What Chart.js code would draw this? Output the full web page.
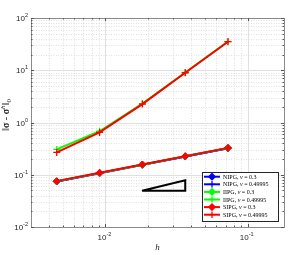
<!DOCTYPE html>
<html><head><meta charset="utf-8">
<script src="https://cdn.jsdelivr.net/npm/chart.js@4/dist/chart.umd.min.js"></script>
<style>html,body{margin:0;padding:0;background:#fff}canvas{display:block}</style>
</head><body>
<canvas id="c" width="293" height="255"></canvas>
<script>
const hValues = [0.00455, 0.0091, 0.0182, 0.0364, 0.0727];
const nipg03 = [0.0742, 0.1070, 0.1550, 0.2240, 0.3220];
const nipg049995 = [0.0745, 0.1075, 0.1555, 0.2245, 0.3225];
const iipg03 = [0.0750, 0.1080, 0.1560, 0.2260, 0.3250];
const iipg049995 = [0.305, 0.680, 2.30, 9.05, 35.4];
const sipg03 = [0.0755, 0.1090, 0.1570, 0.2270, 0.3270];
const sipg049995 = [0.267, 0.645, 2.25, 8.96, 35.2];
const triX = [0.0181, 0.0364, 0.0364, 0.0181];
const triY = [0.0492, 0.0492, 0.0788, 0.0492];
const xTickValues = [0.01, 0.1];
const xTickExp = ['-2', '-1'];
const yTickValues = [0.01, 0.1, 1, 10, 100];
const yTickExp = ['-2', '-1', '0', '1', '2'];
const seriesNames = ['NIPG', 'NIPG', 'IIPG', 'IIPG', 'SIPG', 'SIPG'];
const seriesNu = ['0.3', '0.49995', '0.3', '0.49995', '0.3', '0.49995'];

const pts = arr => arr.map((v, i) => ({x: hValues[i], y: v}));
const mk = (i, data, color, style, order) => ({
  label: seriesNames[i] + ', \u03bd = ' + seriesNu[i],
  data: pts(data), borderColor: color, backgroundColor: color, order,
  borderWidth: 2, pointStyle: style, pointRadius: 3.5,
  pointBorderWidth: style === 'rectRot' ? 1 : 1.3, tension: 0, fill: false
});
const datasets = [
  mk(0, nipg03, '#0000ff', 'rectRot', 7),
  mk(1, nipg049995, '#0000ff', 'cross', 6),
  mk(2, iipg03, '#00ff00', 'rectRot', 5),
  mk(3, iipg049995, '#00ff00', 'cross', 4),
  mk(4, sipg03, '#ff0000', 'rectRot', 3),
  mk(5, sipg049995, '#ff0000', 'cross', 2),
  {label: 'slope', data: triX.map((x, i) => ({x, y: triY[i]})), borderColor: '#000', order: 1,
   borderWidth: 2, pointRadius: 0, fill: false, tension: 0}
];

function drawMarker(ctx, style, x, y, r, color) {
  ctx.save();
  ctx.fillStyle = color; ctx.strokeStyle = color; ctx.lineWidth = 1.3;
  if (style === 'rectRot') {
    ctx.beginPath(); ctx.moveTo(x, y - r); ctx.lineTo(x + r, y); ctx.lineTo(x, y + r); ctx.lineTo(x - r, y); ctx.closePath();
    ctx.fill(); ctx.stroke();
  } else {
    ctx.beginPath(); ctx.moveTo(x - r, y); ctx.lineTo(x + r, y); ctx.moveTo(x, y - r); ctx.lineTo(x, y + r); ctx.stroke();
  }
  ctx.restore();
}

const backPlugin = {
  id: 'back',
  beforeDatasetsDraw(chart) {
    const {ctx, chartArea: a, scales: {x, y}} = chart;
    ctx.save();
    ctx.fillStyle = '#fff'; ctx.fillRect(a.left, a.top, a.right - a.left, a.bottom - a.top);
    ctx.strokeStyle = '#d4d4d4'; ctx.lineWidth = 0.7; ctx.setLineDash([1, 1.5]);
    for (let e = -3; e <= 0; e++) for (let m = 2; m <= 9; m++) {
      const v = m * Math.pow(10, e);
      if (v > x.min && v < x.max) { const px = Math.round(x.getPixelForValue(v)) + 0.5; ctx.beginPath(); ctx.moveTo(px, a.top); ctx.lineTo(px, a.bottom); ctx.stroke(); }
    }
    for (let e = -2; e <= 1; e++) for (let m = 2; m <= 9; m++) {
      const v = m * Math.pow(10, e);
      const py = Math.round(y.getPixelForValue(v)) + 0.5; ctx.beginPath(); ctx.moveTo(a.left, py); ctx.lineTo(a.right, py); ctx.stroke();
    }
    ctx.setLineDash([]);
    ctx.strokeStyle = '#e0e0e0'; ctx.lineWidth = 1;
    xTickValues.forEach(v => { const px = Math.round(x.getPixelForValue(v)) + 0.5; ctx.beginPath(); ctx.moveTo(px, a.top); ctx.lineTo(px, a.bottom); ctx.stroke(); });
    yTickValues.forEach(v => { const py = Math.round(y.getPixelForValue(v)) + 0.5; ctx.beginPath(); ctx.moveTo(a.left, py); ctx.lineTo(a.right, py); ctx.stroke(); });
    ctx.restore();
  },
  afterDatasetsDraw(chart) {
    const {ctx, chartArea: a, scales: {x, y}} = chart;
    ctx.save();
    ctx.strokeStyle = '#8a8a8a'; ctx.lineWidth = 1;
    ctx.strokeRect(Math.round(a.left) + 0.5, Math.round(a.top) + 0.5, Math.round(a.right - a.left), Math.round(a.bottom - a.top));
    ctx.strokeStyle = '#555';
    const tickX = (v, len) => { const px = Math.round(x.getPixelForValue(v)) + 0.5; ctx.beginPath(); ctx.moveTo(px, a.bottom); ctx.lineTo(px, a.bottom - len); ctx.moveTo(px, a.top); ctx.lineTo(px, a.top + len); ctx.stroke(); };
    const tickY = (v, len) => { const py = Math.round(y.getPixelForValue(v)) + 0.5; ctx.beginPath(); ctx.moveTo(a.left, py); ctx.lineTo(a.left + len, py); ctx.moveTo(a.right, py); ctx.lineTo(a.right - len, py); ctx.stroke(); };
    for (let e = -3; e <= 0; e++) for (let m = 2; m <= 9; m++) { const v = m * Math.pow(10, e); if (v > x.min && v < x.max) tickX(v, 1.5); }
    for (let e = -2; e <= 1; e++) for (let m = 2; m <= 9; m++) tickY(m * Math.pow(10, e), 1.5);
    xTickValues.forEach(v => tickX(v, 3));
    yTickValues.forEach(v => tickY(v, 3));
    ctx.fillStyle = '#262626';
    const base = '8px "Liberation Sans", Arial, sans-serif', sup = '5.5px "Liberation Sans", Arial, sans-serif';
    ctx.textBaseline = 'alphabetic';
    yTickValues.forEach((v, i) => {
      const py = y.getPixelForValue(v);
      ctx.font = sup; const ws = ctx.measureText(yTickExp[i]).width;
      ctx.font = base; const wb = ctx.measureText('10').width;
      const right = a.left - 3;
      ctx.font = base; ctx.textAlign = 'left'; ctx.fillText('10', right - ws - wb, py + 3);
      ctx.font = sup; ctx.fillText(yTickExp[i], right - ws, py - 1);
    });
    xTickValues.forEach((v, i) => {
      const px = x.getPixelForValue(v);
      ctx.font = sup; const ws = ctx.measureText(xTickExp[i]).width;
      ctx.font = base; const wb = ctx.measureText('10').width;
      const left = px - (ws + wb) / 2 - 1;
      ctx.textAlign = 'left'; ctx.font = base; ctx.fillText('10', left, a.bottom + 13);
      ctx.font = sup; ctx.fillText(xTickExp[i], left + wb, a.bottom + 9);
    });
    ctx.font = 'italic 9px "Liberation Serif", "DejaVu Serif", serif';
    ctx.textAlign = 'center'; ctx.fillStyle = '#262626';
    ctx.fillText('h', (a.left + a.right) / 2, a.bottom + 23);
    ctx.save();
    ctx.translate(9, 115); ctx.rotate(-Math.PI / 2);
    const runs = [
      ['\u2016', '10px "Liberation Serif", serif', 0],
      ['\u03c3', 'bold 10px "Liberation Serif", serif', 0],
      [' - ', '10px "Liberation Serif", serif', 0],
      ['\u03c3', 'bold 10px "Liberation Serif", serif', 0],
      ['h', 'italic 7px "Liberation Serif", serif', -4],
      ['\u2016', '10px "Liberation Serif", serif', 0],
      ['0', '7px "Liberation Serif", serif', 2]
    ];
    let tw = 0; runs.forEach(r => { ctx.font = r[1]; tw += ctx.measureText(r[0]).width; });
    let cx = -tw / 2; ctx.textAlign = 'left';
    runs.forEach(r => { ctx.font = r[1]; ctx.fillText(r[0], cx, r[2]); cx += ctx.measureText(r[0]).width; });
    ctx.restore();
    const lx = 202, ly = 172, lw = 76, lh = 49;
    ctx.fillStyle = '#fff'; ctx.fillRect(lx, ly, lw, lh);
    ctx.strokeStyle = '#262626'; ctx.lineWidth = 1; ctx.strokeRect(lx + 0.5, ly + 0.5, lw, lh);
    for (let i = 0; i < 6; i++) {
      const ds = chart.data.datasets[i];
      const ry = ly + 4.7 + i * 7.6;
      ctx.strokeStyle = ds.borderColor; ctx.lineWidth = 2;
      ctx.beginPath(); ctx.moveTo(lx + 2, ry); ctx.lineTo(lx + 18, ry); ctx.stroke();
      drawMarker(ctx, ds.pointStyle, lx + 10, ry, 3.2, ds.borderColor);
      ctx.fillStyle = '#000'; ctx.textAlign = 'left'; ctx.textBaseline = 'middle';
      let tx = lx + 21;
      ctx.font = '6px "Liberation Serif", "DejaVu Serif", serif';
      const t1 = seriesNames[i] + ', '; ctx.fillText(t1, tx, ry + 0.5); tx += ctx.measureText(t1).width;
      ctx.font = 'italic 6px "Liberation Serif", "DejaVu Serif", serif';
      ctx.fillText('\u03bd', tx, ry + 0.5); tx += ctx.measureText('\u03bd').width;
      ctx.font = '6px "Liberation Serif", "DejaVu Serif", serif';
      ctx.fillText(' = ' + seriesNu[i], tx, ry + 0.5);
    }
    ctx.restore();
  }
};

new Chart(document.getElementById('c'), {
  type: 'line',
  data: {datasets},
  options: {
    responsive: false, animation: false, devicePixelRatio: 1,
    layout: {padding: {top: 18, right: 9, left: 0, bottom: 0}},
    plugins: {legend: {display: false}, tooltip: {enabled: false}},
    scales: {
      x: {type: 'logarithmic', min: 0.003, max: 0.18, grid: {display: false}, border: {display: false},
          ticks: {display: false}, afterFit: s => { s.height = 28; }},
      y: {type: 'logarithmic', min: 0.01, max: 100, grid: {display: false}, border: {display: false},
          ticks: {display: false}, afterFit: s => { s.width = 31; }}
    }
  },
  plugins: [backPlugin]
});
</script>
</body></html>
